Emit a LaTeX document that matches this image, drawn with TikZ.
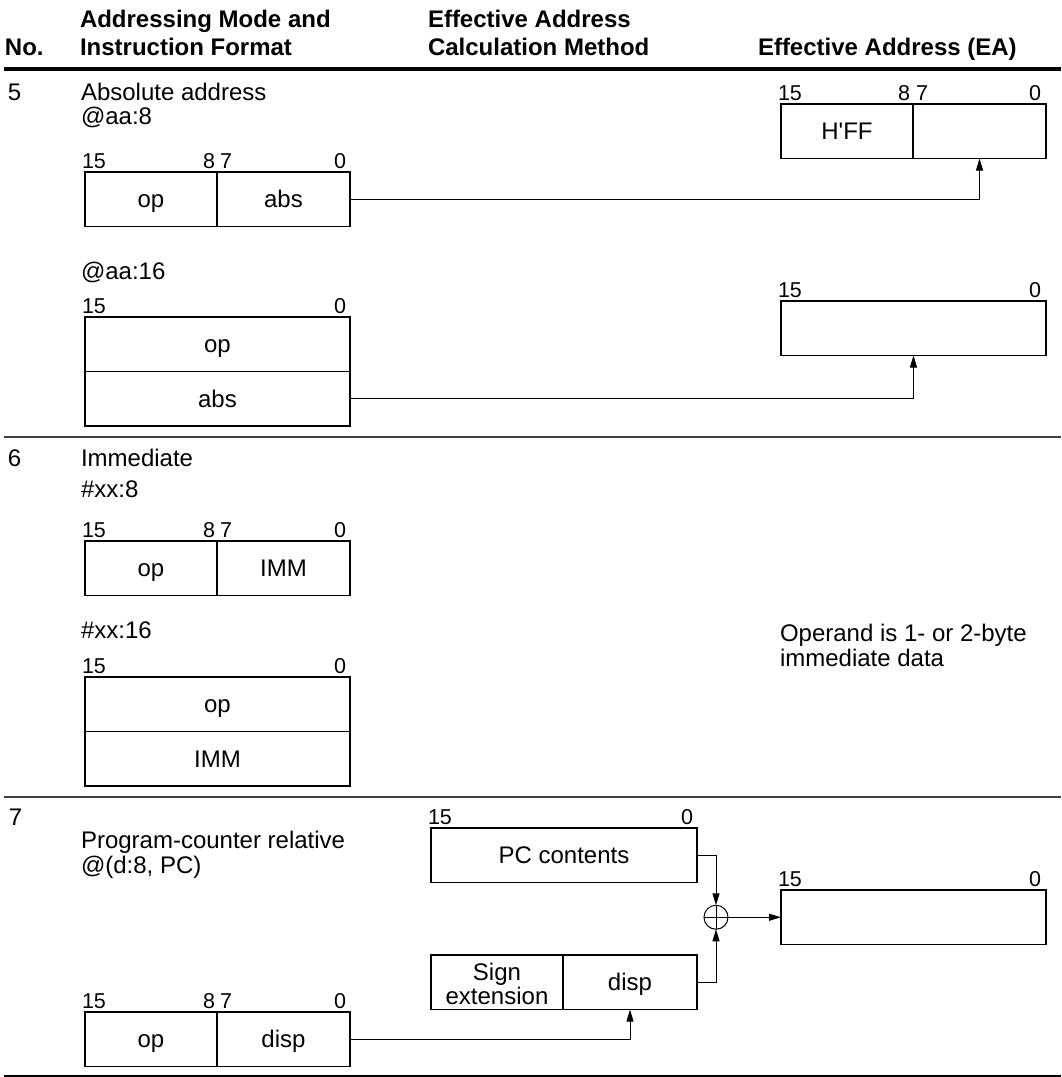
\documentclass[tikz,border=0pt]{standalone}
\usepackage{fontspec}
\setmainfont{Liberation Sans}
\usetikzlibrary{arrows.meta}
\begin{document}
\begin{tikzpicture}[x=1pt,y=-1pt,
  every node/.style={inner sep=0pt,outer sep=0pt},
  txt/.style={anchor=base west,font=\fontsize{24}{26}\selectfont},
  hdr/.style={anchor=base west,font=\fontsize{24}{28}\selectfont\bfseries},
  bitl/.style={anchor=base west,font=\fontsize{21.5}{24}\selectfont},
  bitr/.style={anchor=base east,font=\fontsize{21.5}{24}\selectfont},
  cell/.style={draw,line width=1.2pt,anchor=north west,minimum height=54.5pt,text height=17.2pt,text depth=0pt,font=\fontsize{24}{28}\selectfont},
  conn/.style={line width=1pt},
  arr/.style={conn,-{Triangle[length=12pt,width=7pt]}},
  rowrule/.style={line width=1.3pt,black!75}
]
\useasboundingbox (0,0) rectangle (1061,1077);

% header
\node[hdr] (hno) at (5,55) {No.};
\node[hdr] (hmode1) at (80,27) {Addressing Mode and};
\node[hdr] (hmode2) at (80,55) {Instruction Format};
\node[hdr] (hcalc1) at (428,27) {Effective Address};
\node[hdr] (hcalc2) at (428,55) {Calculation Method};
\node[hdr] (hea) at (758,55) {Effective Address (EA)};
\draw[line width=4pt] (4,69) -- (1061,69);

% row 5
\node[txt] (n5) at (8,100) {5};
\node[txt] (t5a) at (81,100) {Absolute address};
\node[txt] (t5b) at (81,124) {@aa:8};
\node[bitl] (b5a) at (82,168) {15};
\node[bitr] (b5b) at (215,168) {8};
\node[bitl] (b5c) at (220,168) {7};
\node[bitr] (b5d) at (346,168) {0};
\node[cell,minimum width=132pt] (r5op) at (85,172) {op};
\node[cell,minimum width=133pt] (r5abs) at (217,172) {abs};

\node[bitl] (e1a) at (778,100) {15};
\node[bitr] (e1b) at (910,100) {8};
\node[bitl] (e1c) at (916,100) {7};
\node[bitr] (e1d) at (1041,100) {0};
\node[cell,minimum width=132pt] (ea1hi) at (781,104) {H\textquotesingle FF};
\node[cell,minimum width=133pt] (ea1lo) at (913,104) {};

\node[txt] (t5c) at (81,279) {@aa:16};
\node[bitl] (b5e) at (82,313) {15};
\node[bitr] (b5f) at (346,313) {0};
\node[cell,minimum width=265pt] (a16op) at (85,317) {op};
\node[cell,minimum width=265pt] (a16abs) at (85,371.5) {abs};

\node[bitl] (e2a) at (778,297) {15};
\node[bitr] (e2b) at (1041,297) {0};
\node[cell,minimum width=265pt] (ea2) at (781,301) {};

\draw[arr] (r5abs.east) -| (ea1lo.south);
\draw[arr] (a16abs.east) -| (ea2.south);

\draw[rowrule] (4,437) -- (1061,437);

% row 6
\node[txt] (n6) at (8,466) {6};
\node[txt] (t6a) at (81,466) {Immediate};
\node[txt] (t6b) at (81,497) {\#xx:8};
\node[bitl] (b6a) at (82,537) {15};
\node[bitr] (b6b) at (215,537) {8};
\node[bitl] (b6c) at (220,537) {7};
\node[bitr] (b6d) at (346,537) {0};
\node[cell,minimum width=132pt] (r6op) at (85,541) {op};
\node[cell,minimum width=133pt] (r6imm) at (217,541) {IMM};

\node[txt] (t6c) at (81,638) {\#xx:16};
\node[bitl] (b6e) at (82,673) {15};
\node[bitr] (b6f) at (346,673) {0};
\node[cell,minimum width=265pt] (i16op) at (85,677) {op};
\node[cell,minimum width=265pt] (i16imm) at (85,731.5) {IMM};

\node[txt] (t6d) at (780,641) {Operand is 1- or 2-byte};
\node[txt] (t6e) at (780,666) {immediate data};

\draw[rowrule] (4,797) -- (1061,797);

% row 7
\node[txt] (n7) at (9,825) {7};
\node[txt] (t7a) at (81,848) {Program-counter relative};
\node[txt] (t7b) at (81,873) {@(d:8, PC)};
\node[bitl] (b7a) at (82,1008) {15};
\node[bitr] (b7b) at (215,1008) {8};
\node[bitl] (b7c) at (220,1008) {7};
\node[bitr] (b7d) at (346,1008) {0};
\node[cell,minimum width=132pt] (r7op) at (85,1012) {op};
\node[cell,minimum width=133pt] (r7disp) at (217,1012) {disp};

\node[bitl] (p7a) at (428,824) {15};
\node[bitr] (p7b) at (693,824) {0};
\node[cell,minimum width=266pt] (pc) at (431,828) {PC contents};

\node[cell,minimum width=132pt] (sgn) at (431,955) {};
\node[cell,minimum width=134pt] (sdisp) at (563,955) {disp};
\node[align=center,font=\fontsize{24}{24}\selectfont] (signtxt) at (497,984) {Sign\\extension};

\node[draw,circle,minimum size=24pt,line width=1pt] (plus) at (716,917.25) {};
\draw[line width=0.8pt] (plus.west) -- (plus.east) (plus.north) -- (plus.south);

\node[bitl] (e7a) at (778,886) {15};
\node[bitr] (e7b) at (1041,886) {0};
\node[cell,minimum width=265pt] (ea7) at (781,890) {};

\draw[arr] (pc.east) -| (plus.north);
\draw[arr] (sdisp.east) -| (plus.south);
\draw[arr] (plus.east) -- (ea7.west);
\draw[arr] (r7disp.east) -| (sdisp.south);

\draw[line width=1.8pt] (4,1076) -- (1061,1076);
\end{tikzpicture}
\end{document}
